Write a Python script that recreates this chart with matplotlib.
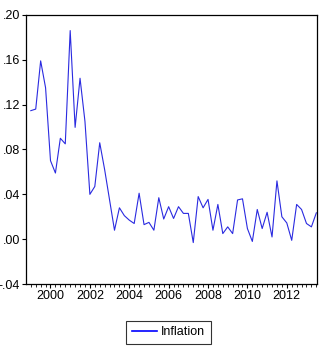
import numpy as np
import matplotlib
matplotlib.use('Agg')
import matplotlib.pyplot as plt
from matplotlib.ticker import MultipleLocator

plt.rcParams['font.family'] = ['Liberation Sans', 'DejaVu Sans']
fs = 9

# quarterly inflation, 1999Q1 .. 2013Q3
inflation = [0.1146, 0.116, 0.159, 0.135, 0.070, 0.059, 0.090, 0.085,
             0.186, 0.0997, 0.1435, 0.105, 0.040, 0.047, 0.086, 0.062,
             0.035, 0.008, 0.028, 0.021, 0.017, 0.014, 0.041, 0.013,
             0.015, 0.008, 0.037, 0.018, 0.029, 0.0185, 0.029, 0.023,
             0.023, -0.003, 0.038, 0.028, 0.0355, 0.008, 0.031, 0.005,
             0.011, 0.005, 0.035, 0.036, 0.0095, -0.002, 0.0265, 0.0095,
             0.024, 0.002, 0.052, 0.020, 0.0145, -0.001, 0.031, 0.0265,
             0.014, 0.011, 0.0235]
start_year = 1999.0
years = start_year + 0.25 * np.arange(len(inflation))

yticks = [-0.04, 0.00, 0.04, 0.08, 0.12, 0.16, 0.20]
ylabels = ['-.04', '.00', '.04', '.08', '.12', '.16', '.20']
xticks = [2000, 2002, 2004, 2006, 2008, 2010, 2012]

fig = plt.figure(figsize=(3.22, 3.46), dpi=100)
ax = fig.add_axes([0.081, 0.179, 0.902, 0.778])

ax.plot(years, inflation, color='#2a2ae0', lw=0.8, label='Inflation')

ax.set_xlim(1998.76, 2013.51)
ax.set_ylim(-0.04, 0.20)
ax.set_yticks(yticks)
ax.set_yticklabels(ylabels)
ax.set_xticks(xticks)
ax.set_xticklabels([str(x) for x in xticks])
ax.xaxis.set_minor_locator(MultipleLocator(0.25))

ax.tick_params(axis='both', which='major', labelsize=fs, direction='out',
               length=3, width=0.8, colors='black', pad=1.5)
ax.tick_params(axis='x', which='minor', direction='out', length=2, width=0.6)
ax.tick_params(top=False, right=False)
for s in ax.spines.values():
    s.set_linewidth(0.9)
    s.set_color('black')

fig.legend(loc='lower center', bbox_to_anchor=(0.523, -0.012), fontsize=fs,
           frameon=True, fancybox=False, edgecolor='black', handlelength=2.0,
           borderpad=0.45, handletextpad=0.35)
leg = fig.legends[0]
leg.get_frame().set_linewidth(0.8)
for l in leg.get_lines():
    l.set_color('blue')
    l.set_linewidth(1.2)

fig.savefig('out.png', dpi=100)
